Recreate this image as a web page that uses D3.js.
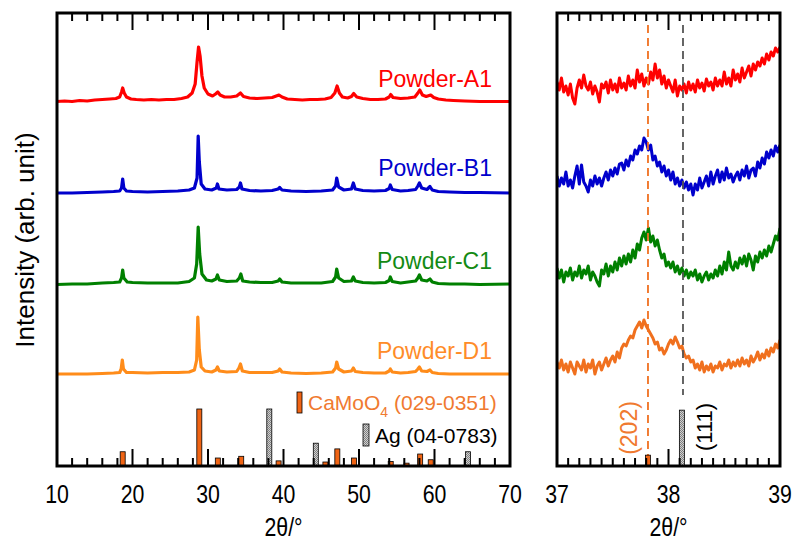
<!DOCTYPE html>
<html><head><meta charset="utf-8">
<script src="https://cdn.jsdelivr.net/npm/d3@7"></script>
<style>
body{margin:0;background:#fff;}
text{font-family:"Liberation Sans",Arial,sans-serif;}
</style></head>
<body><svg id="c" width="797" height="540"></svg>
<script>
// ---------- DATA ----------
const samples = ["Powder-A1","Powder-B1","Powder-C1","Powder-D1"];
const sampleColors = ["#ff0000","#0000cc","#008000","#ff8c1a"];
const rightColors = ["#ff0000","#0000cc","#008000","#f0701e"];
const labelColors = ["#ff0000","#0000cc","#138a13","#ff8c28"];
const leftOffsets = [366, 274, 182, 92];
const rightOffsets = [380, 286, 194, 100];

// left panel traces: [2theta, intensity above baseline]
const traceA1 = [[10,-1.5],[11,-1],[12,-1.5],[13,-0.5],[14,-1],[15,0],[16,0.5],[17,1],[17.8,1.5],[18.3,3],[18.55,8],[18.7,12],[18.9,7],[19.2,3],[19.8,1],[20.5,0.5],[21.5,0],[22.5,0.5],[23.5,0],[24.5,0.5],[25.5,0.5],[26.5,1.5],[27.3,3],[27.9,7],[28.3,16],[28.55,38],[28.75,53],[28.95,44],[29.2,24],[29.5,12],[30,6],[30.6,4],[31.0,6],[31.3,8],[31.6,5],[32.2,3],[33,3],[33.8,4],[34.3,7],[34.7,3.5],[35.5,2],[36.5,1.5],[37.5,2],[38.5,2.5],[39.4,5],[39.8,3],[40.5,1],[41.5,0.5],[42.5,0],[43.5,0.5],[44.5,0.5],[45.5,1],[46.3,2.5],[46.8,7],[47.1,14],[47.4,7],[47.8,3],[48.5,2],[49.0,3.5],[49.3,6.5],[49.7,3],[50.5,1.5],[51.5,0.5],[52.5,0.5],[53.5,1],[54.0,3],[54.2,5.5],[54.5,2.5],[55.5,1.5],[56.5,2],[57.4,3],[57.8,7],[58.05,10],[58.4,5],[58.9,3.5],[59.5,5],[59.9,2.5],[60.5,1],[61.5,0],[62.5,-0.5],[64,-1],[66,-1.5],[68,-1.5],[70,-1.5]];
const traceB1 = [[10,-1],[12,-1],[14,-0.5],[16,0],[17.5,0.5],[18.3,1],[18.55,4],[18.7,13],[18.85,4],[19.2,1],[20,0.5],[22,0],[24,0.5],[26,1],[27.5,2],[28.2,4],[28.55,14],[28.7,56],[28.85,30],[29.1,8],[29.6,3],[30.5,2],[31.1,4],[31.25,8],[31.45,3],[32.5,2],[33.8,2.5],[34.15,5],[34.3,9],[34.5,3],[35.5,1.5],[37,1],[38.5,1.5],[39.3,3],[39.5,4.5],[39.8,2],[41,1],[43,0.5],[45,1],[46.5,2],[46.9,6],[47.05,14],[47.3,5],[48,2],[49.0,3],[49.25,9],[49.5,3],[50.5,1.5],[52,1],[53.5,1.5],[54.0,3.5],[54.15,7],[54.4,2.5],[55.5,1],[56.5,1.5],[57.5,2.5],[57.8,6],[58.0,9],[58.3,4],[59,2.5],[59.4,5.5],[59.7,2],[60.5,0.5],[62,0],[64,-0.5],[66,-0.5],[70,-1]];
const traceC1 = [[10,-0.5],[12,0],[14,0],[16,1],[17.5,1.5],[18.3,2],[18.55,6],[18.7,14],[18.85,6],[19.3,2],[20,1.5],[22,1],[24,1],[26,1],[27.5,2.5],[28.2,6],[28.5,20],[28.7,57],[28.9,30],[29.2,10],[29.8,4],[30.5,3],[31.05,5],[31.25,9],[31.5,4],[32.5,2.5],[33.8,3],[34.15,6],[34.35,10],[34.6,3],[35.5,2],[37,1.5],[38.5,1.5],[39.3,3],[39.5,5],[39.8,2],[41,1],[43,1],[45,1],[46.5,2.5],[46.9,7],[47.05,15],[47.3,6],[48,2.5],[49.0,3],[49.25,7],[49.5,3],[50.5,1.5],[52,1],[53.5,1.5],[54.0,3.5],[54.15,7],[54.4,2.5],[55.5,1],[56.5,2],[57.5,3],[57.8,6],[58.0,9],[58.3,4],[59,3],[59.4,5],[59.7,2],[60.5,0.5],[62,0],[64,0],[66,-0.5],[70,0]];
const traceD1 = [[10,0],[12,0],[14,0],[16,0.5],[17.5,1],[18.3,1.5],[18.5,5],[18.65,14],[18.8,5],[19.2,1.5],[20,1.5],[22,1],[24,1.5],[26,1.5],[27.5,2],[28.2,4],[28.5,14],[28.65,57],[28.85,24],[29.1,7],[29.6,3],[30.5,2],[31.05,4],[31.25,7],[31.5,3],[32.5,2],[33.8,2.5],[34.1,6],[34.3,10],[34.55,3],[35.5,1.5],[37,1.5],[38.5,1.5],[39.3,3],[39.5,5],[39.8,2],[41,1],[43,0.5],[45,1],[46.5,2],[46.9,6],[47.05,12],[47.3,5],[48,2],[49.0,3],[49.25,6],[49.5,2.5],[50.5,1.5],[52,1],[53.5,1],[54.0,3],[54.15,5],[54.4,2],[55.5,1],[56.5,1.5],[57.5,2.5],[57.8,5],[58.0,7],[58.3,3],[59,2.5],[59.4,4],[59.7,1.5],[60.5,0.5],[62,0],[64,0],[66,0],[70,0]];

// right panel (zoom 37-39 deg, step 0.02 deg)
const zoomStart = 37, zoomStep = 0.02;
const zoomA1 = [4,-4,8,-6,0,-9,2,-12,-18,-2,6, -2,11,0,-4,4,-8,0,-6,-16,2, -2,4,-7,6,-4,2,-6,8,-2,3, -4,10,0,6,-2,16,4,12,0,8, 2,14,6,22,8,16,2,10,-2,6, 0,-6,6,-10,0,-4,2,-7,4,-4, 2,-6,6,-2,3,-5,7,0,4,-4, 8,0,6,0,14,2,8,0,16,6, 12,4,18,8,14,20,10,22,16,24, 20,28,22,32,26,34,30,38,34,39];
const zoomB1 = [4,-6,2,-4,8,-6,0,-8,4,14,-4, 15,-2,-6,-12,0,-6,4,-4,2,-6, 2,8,0,10,4,12,6,16,17,10, 20,14,24,20,30,26,34,30,42,38, 30,35,20,24,14,18,8,14,4,10, 0,8,-4,2,-6,0,-8,-2,-10,-4, -15,-4,-10,2,-8,-2,4,-6,8,-4, 4,10,-2,8,0,12,2,6,-2,4, 8,0,10,4,14,2,10,12,4,18, 12,22,16,28,22,30,24,34,28,35];
const zoomC1 = [4,-6,2,-10,0,-4,4,-8,0,-4,6, -6,2,-2,6,-8,0,-4,-10,-14,2, -2,8,-4,6,0,10,2,14,6,16, 8,18,10,22,14,28,22,34,40,32, 44,30,36,26,32,22,14,18,6,10, 4,10,0,6,-2,4,-4,2,-6,0, -4,2,-8,-2,-10,-4,0,-8,-2,-6, 2,-4,6,-2,10,2,20,6,2,10, 4,14,8,16,6,18,12,2,16,10, 20,14,22,16,26,20,28,36,32,44];
const zoomD1 = [4,-2,6,-4,2,-6,4,-2,-8,4,0, -4,6,-6,2,-2,6,-8,0,4,-4, 2,8,0,6,10,4,14,8,18,22, 20,26,30,28,36,40,44,38,46,40, 36,32,28,22,24,16,18,12,16,22, 26,22,29,24,18,20,12,8,10,4, 6,-2,2,-4,4,-6,0,-4,2,-6, 0,-2,4,-4,2,0,6,-2,4,0, 6,0,8,2,6,0,10,4,8,14, 6,12,8,16,10,18,14,22,18,26];

// reference patterns: [2theta, relative intensity %]
const camoo4Ref = [[18.7,25],[28.85,100],[31.3,14],[34.4,17],[39.35,9],[45.55,7],[47.13,30],[49.34,14],[54.2,8],[56.3,5],[58.1,21],[59.5,11]];
const agRef = [[38.12,100],[44.28,40],[64.45,25]];
const camoo4Zoom = [[37.816,19]];
const agZoom = [[38.12,98]];
const refLines = [{x:37.816, label:"(202)"}, {x:38.13, label:"(111)"}];

const leftTicks = [10,20,30,40,50,60,70];
const rightTicks = [37,38,39];

// ---------- DRAW ----------
const svg = d3.select("#c");
const L = {x0:57, x1:510}, R = {x0:557, x1:780}, T0 = 13, B0 = 466;
const xL = d3.scaleLinear([10,70],[L.x0,L.x1]);
const xR = d3.scaleLinear([37,39],[R.x0,R.x1]);
const y = d3.scaleLinear([0,453],[B0,T0]);
const yBar = d3.scaleLinear([0,100],[B0,B0-57]);

const defs = svg.append("defs");
const pat = defs.append("pattern").attr("id","hatch").attr("patternUnits","userSpaceOnUse").attr("width",2).attr("height",2);
pat.append("rect").attr("width",2).attr("height",2).attr("fill","#d0d0d0");
pat.append("rect").attr("width",1).attr("height",1).attr("fill","#808080");
pat.append("rect").attr("x",1).attr("y",1).attr("width",1).attr("height",1).attr("fill","#808080");
defs.append("clipPath").attr("id","clipL").append("rect").attr("x",L.x0).attr("y",T0).attr("width",L.x1-L.x0).attr("height",B0-T0);
defs.append("clipPath").attr("id","clipR").append("rect").attr("x",R.x0).attr("y",T0).attr("width",R.x1-R.x0).attr("height",B0-T0);

// left traces
const leftTraces = [traceA1, traceB1, traceC1, traceD1];
const gL = svg.append("g").attr("clip-path","url(#clipL)");
leftTraces.forEach((tr,i)=>{
  gL.append("path").datum(tr)
    .attr("d", d3.line().x(d=>xL(d[0])).y(d=>y(d[1]+leftOffsets[i])))
    .attr("fill","none").attr("stroke",sampleColors[i]).attr("stroke-width",3.2).attr("stroke-linejoin","round");
});
// sample labels
const labelY = [87, 176, 269, 359];
samples.forEach((s,i)=>{
  svg.append("text").attr("x",492).attr("y",labelY[i]).attr("text-anchor","end")
    .attr("font-size",23).attr("fill",labelColors[i]).text(s);
});

// reference bars
function bars(g, data, x, fill){
  g.selectAll(null).data(data).enter().append("rect")
    .attr("x",d=>x(d[0])-2.5).attr("width",5)
    .attr("y",d=>yBar(d[1])).attr("height",d=>B0-yBar(d[1]))
    .attr("fill",fill).attr("stroke","#000").attr("stroke-width",0.8);
}
bars(gL, agRef, xL, "url(#hatch)");
bars(gL, camoo4Ref, xL, "#f06414");

// legend
svg.append("rect").attr("x",297).attr("y",392).attr("width",5).attr("height",21).attr("fill","#f06414").attr("stroke","#000").attr("stroke-width",0.8);
const t1 = svg.append("text").attr("x",308).attr("y",410).attr("font-size",21).attr("fill","#f07a30");
t1.append("tspan").text("CaMoO");
t1.append("tspan").attr("font-size",14).attr("dy",7).text("4");
t1.append("tspan").attr("dy",-7).text(" (029-0351)");
svg.append("rect").attr("x",363).attr("y",424).attr("width",6).attr("height",22).attr("fill","url(#hatch)").attr("stroke","#000").attr("stroke-width",0.8);
svg.append("text").attr("x",375).attr("y",443).attr("font-size",21).attr("fill","#000").text("Ag (04-0783)");

// right traces
const gR = svg.append("g").attr("clip-path","url(#clipR)");
const zoomTraces = [zoomA1, zoomB1, zoomC1, zoomD1];
zoomTraces.forEach((tr,i)=>{
  gR.append("path").datum(tr)
    .attr("d", d3.line().x((d,j)=>xR(zoomStart+j*zoomStep)).y(d=>y(d+rightOffsets[i])))
    .attr("fill","none").attr("stroke",rightColors[i]).attr("stroke-width",3).attr("stroke-linejoin","round");
});
// dashed lines
gR.append("line").attr("x1",xR(refLines[0].x)).attr("x2",xR(refLines[0].x)).attr("y1",T0+12).attr("y2",B0)
  .attr("stroke","#f07020").attr("stroke-width",1.8).attr("stroke-dasharray","8,5");
gR.append("line").attr("x1",xR(refLines[1].x)).attr("x2",xR(refLines[1].x)).attr("y1",T0+12).attr("y2",395)
  .attr("stroke","#555").attr("stroke-width",1.8).attr("stroke-dasharray","8,5");
bars(gR, agZoom, xR, "url(#hatch)");
bars(gR, camoo4Zoom, xR, "#f06414");
svg.append("text").attr("transform",`translate(${xR(refLines[0].x)-19},428) rotate(-90)`).attr("text-anchor","middle")
  .attr("dominant-baseline","central").attr("font-size",23).attr("fill","#f07a30").text(refLines[0].label);
svg.append("text").attr("transform",`translate(${xR(refLines[1].x)+22},427) rotate(-90)`).attr("text-anchor","middle")
  .attr("dominant-baseline","central").attr("font-size",22).attr("fill","#000").text(refLines[1].label);

// ticks + frames
function ticks(x, vals, major){
  vals.forEach(v=>{
    const isMaj = major(v);
    const len = isMaj ? 17 : 8;
    const px = x(v);
    svg.append("line").attr("x1",px).attr("x2",px).attr("y1",B0).attr("y2",B0-len).attr("stroke","#000").attr("stroke-width",2);
    svg.append("line").attr("x1",px).attr("x2",px).attr("y1",T0).attr("y2",T0+len).attr("stroke","#000").attr("stroke-width",2);
  });
}
ticks(xL, d3.range(12,70,2), v=>v%10===0);
ticks(xR, d3.range(1,20).map(k=>37+k*0.1), v=>Math.abs(v-38)<1e-6);

[L,R].forEach(P=>{
  svg.append("rect").attr("x",P.x0).attr("y",T0).attr("width",P.x1-P.x0).attr("height",B0-T0)
    .attr("fill","none").attr("stroke","#000").attr("stroke-width",3);
});

// tick labels (narrow)
function narrowText(x, yy, s, size){
  svg.append("text").attr("transform",`translate(${x},${yy}) scale(0.82,1)`).attr("text-anchor","middle")
    .attr("font-size",size).attr("fill","#000").text(s);
}
leftTicks.forEach(v=>narrowText(xL(v), 503, v, 26));
rightTicks.forEach(v=>narrowText(xR(v), 503, v, 26));
narrowText((L.x0+L.x1)/2, 536, "2θ/°", 26);
narrowText((R.x0+R.x1)/2, 536, "2θ/°", 26);
svg.append("text").attr("transform","translate(34,240) rotate(-90)").attr("text-anchor","middle").attr("font-size",26).text("Intensity (arb. unit)");
</script></body></html>
